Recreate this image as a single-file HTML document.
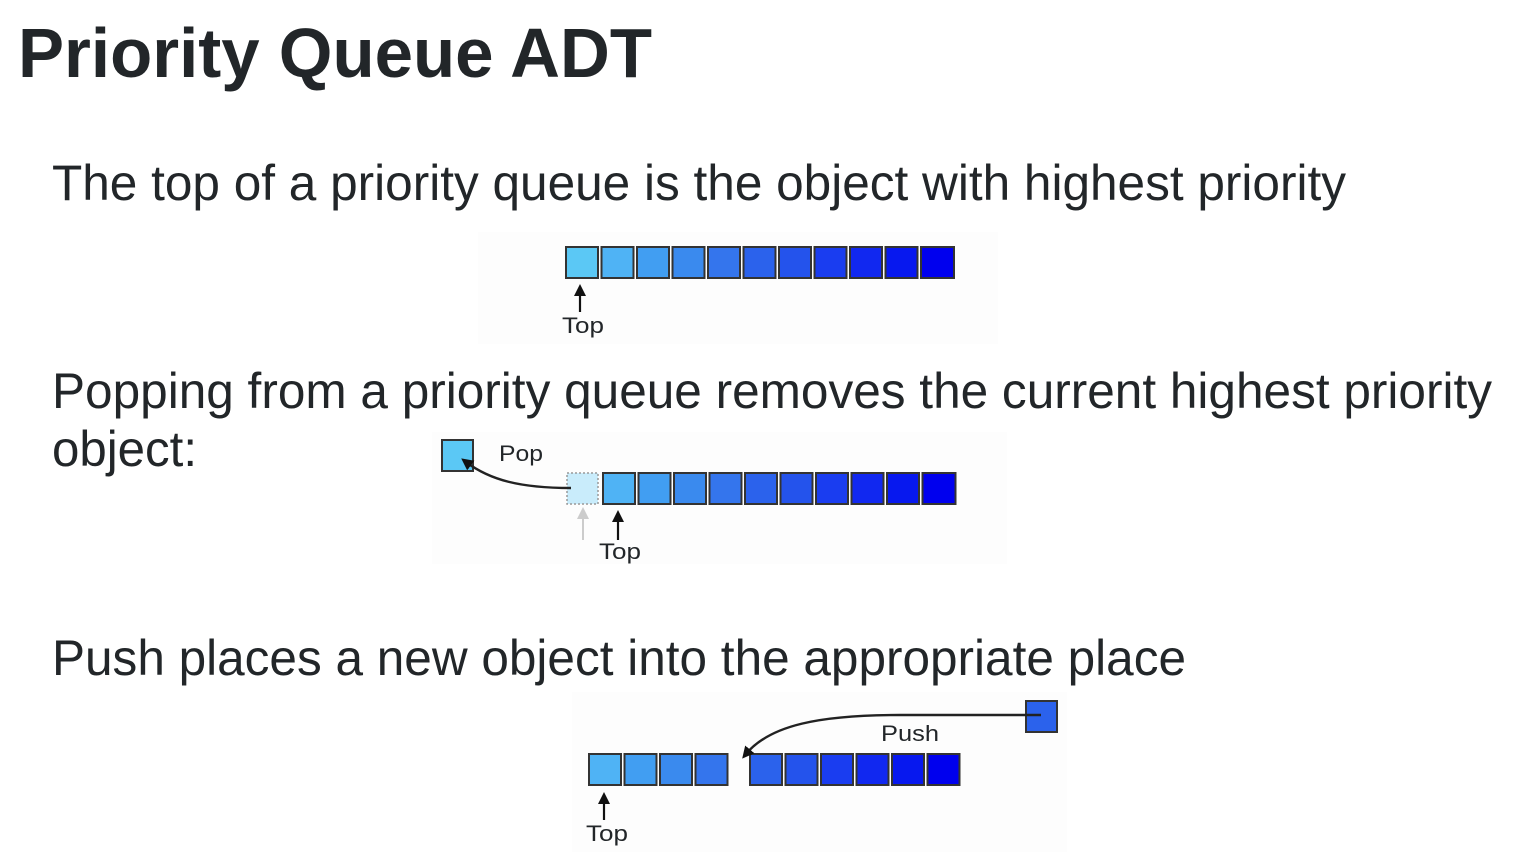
<!DOCTYPE html>
<html><head><meta charset="utf-8"><style>
html,body{margin:0;padding:0;background:#fff;width:1524px;height:856px;overflow:hidden}
svg{display:block}
text{font-family:"Liberation Sans",Arial,sans-serif;fill:#222629}
</style></head><body>
<svg width="1524" height="856" viewBox="0 0 1524 856" xmlns="http://www.w3.org/2000/svg">
<defs>
<marker id="ah" markerWidth="12" markerHeight="12" refX="6" refY="6" orient="auto" markerUnits="userSpaceOnUse"><path d="M0,0 L12,6 L0,12 z" fill="#111"/></marker>
</defs>
<rect x="478" y="232" width="520" height="112" fill="#fdfdfd"/>
<rect x="432" y="432" width="575" height="132" fill="#fdfdfd"/>
<rect x="572" y="692" width="495" height="160" fill="#fdfdfd"/>
<text x="18" y="77" font-size="70" font-weight="bold" textLength="634" lengthAdjust="spacingAndGlyphs">Priority Queue ADT</text>
<text x="52" y="200" font-size="50" textLength="1294" lengthAdjust="spacingAndGlyphs">The top of a priority queue is the object with highest priority</text>
<text x="52" y="408" font-size="50" textLength="1440" lengthAdjust="spacingAndGlyphs">Popping from a priority queue removes the current highest priority</text>
<text x="52" y="466" font-size="50" textLength="145" lengthAdjust="spacingAndGlyphs">object:</text>
<text x="52" y="675" font-size="50" textLength="1134" lengthAdjust="spacingAndGlyphs">Push places a new object into the appropriate place</text>

<g stroke="#333" stroke-width="2">
<rect x="566" y="247" width="32" height="31" fill="#5bc8f5"/>
<rect x="601.5" y="247" width="32" height="31" fill="#4fb3f5"/>
<rect x="637" y="247" width="32" height="31" fill="#419ef2"/>
<rect x="672.5" y="247" width="32" height="31" fill="#3a8aee"/>
<rect x="708" y="247" width="32" height="31" fill="#3475ed"/>
<rect x="743.5" y="247" width="32" height="31" fill="#2b62ec"/>
<rect x="779" y="247" width="32" height="31" fill="#2453ec"/>
<rect x="814.5" y="247" width="32" height="31" fill="#1a3df0"/>
<rect x="850" y="247" width="32" height="31" fill="#1128f0"/>
<rect x="885.5" y="247" width="32" height="31" fill="#0718ef"/>
<rect x="921" y="247" width="33" height="31" fill="#0000ee"/>
</g>
<line x1="580" y1="312" x2="580" y2="290" stroke="#111" stroke-width="2.2" marker-end="url(#ah)"/>
<text x="562" y="333" font-size="22" textLength="42" lengthAdjust="spacingAndGlyphs">Top</text>

<rect x="567" y="473" width="31" height="31" fill="#c9ecfb" stroke="#999" stroke-width="1.5" stroke-dasharray="2,2"/>
<g stroke="#333" stroke-width="2">
<rect x="442" y="440" width="31" height="31" fill="#5bc8f5"/>
<rect x="603" y="473" width="32" height="31" fill="#4fb3f5"/>
<rect x="638.5" y="473" width="32" height="31" fill="#419ef2"/>
<rect x="674" y="473" width="32" height="31" fill="#3a8aee"/>
<rect x="709.5" y="473" width="32" height="31" fill="#3475ed"/>
<rect x="745" y="473" width="32" height="31" fill="#2b62ec"/>
<rect x="780.5" y="473" width="32" height="31" fill="#2453ec"/>
<rect x="816" y="473" width="32" height="31" fill="#1a3df0"/>
<rect x="851.5" y="473" width="32" height="31" fill="#1128f0"/>
<rect x="887" y="473" width="32" height="31" fill="#0718ef"/>
<rect x="922.5" y="473" width="33" height="31" fill="#0000ee"/>
</g>
<path d="M571,488 C520,488 490,480 466,462" fill="none" stroke="#222" stroke-width="2.4" marker-end="url(#ah)"/>
<text x="499" y="461" font-size="22" fill="#333" textLength="44" lengthAdjust="spacingAndGlyphs">Pop</text>
<line x1="583" y1="540" x2="583" y2="516" stroke="#ccc" stroke-width="2"/>
<path d="M577,519 L583,507 L589,519 z" fill="#ccc"/>
<line x1="618" y1="540" x2="618" y2="516" stroke="#111" stroke-width="2.2" marker-end="url(#ah)"/>
<text x="599" y="559" font-size="22" textLength="42" lengthAdjust="spacingAndGlyphs">Top</text>

<g stroke="#333" stroke-width="2">
<rect x="589" y="754" width="32" height="31" fill="#4fb3f5"/>
<rect x="624.5" y="754" width="32" height="31" fill="#419ef2"/>
<rect x="660" y="754" width="32" height="31" fill="#3a8aee"/>
<rect x="695.5" y="754" width="32" height="31" fill="#3475ed"/>
<rect x="750" y="754" width="32" height="31" fill="#2b62ec"/>
<rect x="785.5" y="754" width="32" height="31" fill="#2453ec"/>
<rect x="821" y="754" width="32" height="31" fill="#1a3df0"/>
<rect x="856.5" y="754" width="32" height="31" fill="#1128f0"/>
<rect x="892" y="754" width="32" height="31" fill="#0718ef"/>
<rect x="927.5" y="754" width="32" height="31" fill="#0000ee"/>
<rect x="1026" y="701" width="31" height="31" fill="#2b62ec"/>
</g>
<path d="M1041,715 L900,715 C820,715 770,725 746,754" fill="none" stroke="#222" stroke-width="2.4" marker-end="url(#ah)"/>
<text x="881" y="741" font-size="22" fill="#333" textLength="58" lengthAdjust="spacingAndGlyphs">Push</text>
<line x1="604" y1="820" x2="604" y2="798" stroke="#111" stroke-width="2.2" marker-end="url(#ah)"/>
<text x="586" y="841" font-size="22" textLength="42" lengthAdjust="spacingAndGlyphs">Top</text>
</svg>
</body></html>
